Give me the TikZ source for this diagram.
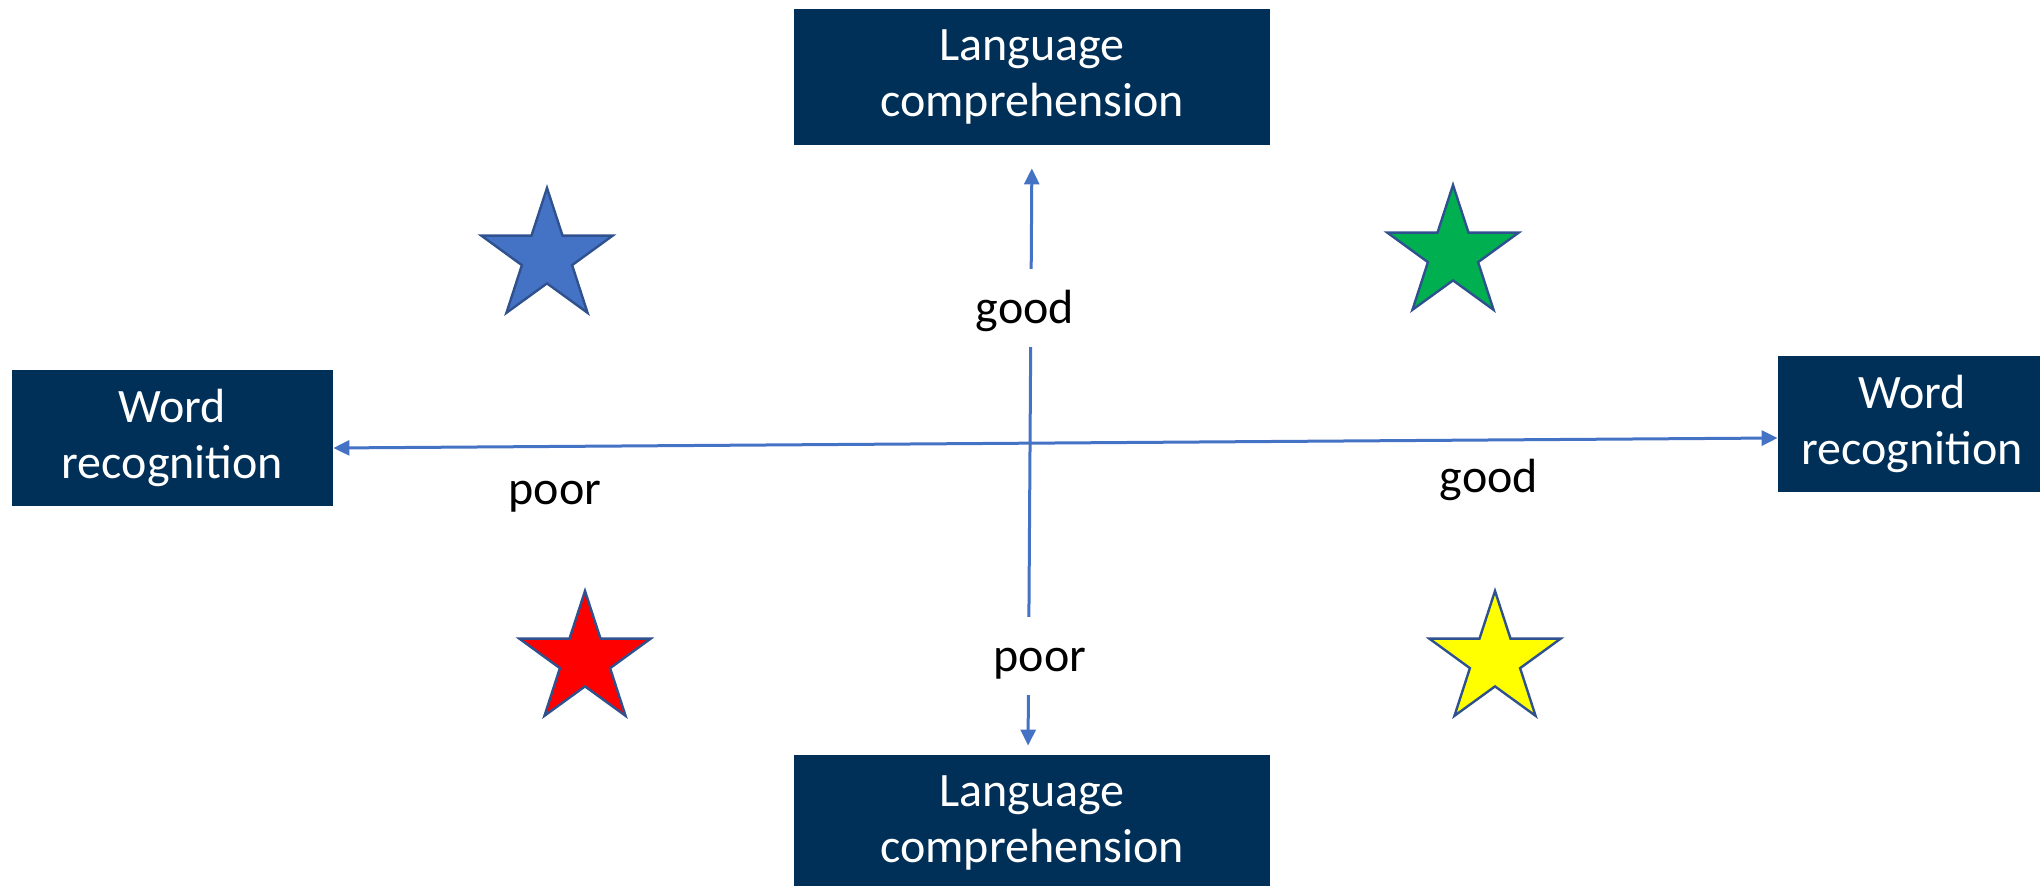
\documentclass[tikz,border=0pt]{standalone}
\usepackage{fontspec}
\setmainfont{Carlito}
\usetikzlibrary{arrows.meta}
\definecolor{navy}{RGB}{0,48,87}
\definecolor{acc}{RGB}{68,114,196}
\definecolor{starline}{RGB}{47,82,143}
\definecolor{sgreen}{RGB}{0,176,80}
\definecolor{sred}{RGB}{255,0,0}
\definecolor{syellow}{RGB}{255,255,0}
\begin{document}
\begin{tikzpicture}[x=0.5pt,y=-0.5pt,
  box/.style={fill=navy,text=white,align=center,inner sep=0pt,
    font=\fontsize{24}{28}\selectfont},
  lbl/.style={font=\fontsize{24}{28}\selectfont,inner sep=0pt},
  gaplbl/.style={lbl,fill=white,minimum height=39pt,inner xsep=2pt,
    text height=15.5pt,text depth=0pt},
  arr/.style={draw=acc,line width=1.5pt,
    {Triangle[length=8pt,width=7.5pt]}-{Triangle[length=8pt,width=7.5pt]}},
  starshape/.pic={\path[pic actions,draw=starline,line width=1.2pt]
    (-90:69) -- (-54:26.4) -- (-18:69) -- (18:26.4) -- (54:69) -- (90:26.4)
    -- (126:69) -- (162:26.4) -- (198:69) -- (234:26.4) -- cycle;}]
\useasboundingbox (0,0) rectangle (2040,886);
% boxes
\node[box,minimum width=238pt,minimum height=68pt] (lctop) at (1032,77) {Language\\comprehension};
\node[box,minimum width=238pt,minimum height=68pt] (lcbot) at (1032,823) {Language\\comprehension};
\node[box,minimum width=160.5pt,minimum height=68pt] (wrl) at (172.5,438) {Word\\recognition};
\node[box,minimum width=134pt,minimum height=68pt] (wrr) at (1912,424) {Word\\recognition};
% axes
\draw[arr] ([yshift=-5pt]wrl.east) -- ([yshift=-7pt]wrr.west);
\draw[arr,shorten <=4.5pt,shorten >=11.5pt] ([xshift=-2pt]lcbot.north) -- (lctop.south);
% labels
\node[gaplbl] (good1) at (1025,308) {good};
\node[gaplbl] (poor1) at (1040,656) {poor};
\node[lbl] (poor2) at (555,497) {poor};
\node[lbl] (good2) at (1489,480) {good};
% stars
\pic[fill=acc] at (547,257) {starshape};
\pic[fill=sgreen] at (1453,254) {starshape};
\pic[fill=sred] at (585,660) {starshape};
\pic[fill=syellow] at (1495,660) {starshape};
\end{tikzpicture}
\end{document}
